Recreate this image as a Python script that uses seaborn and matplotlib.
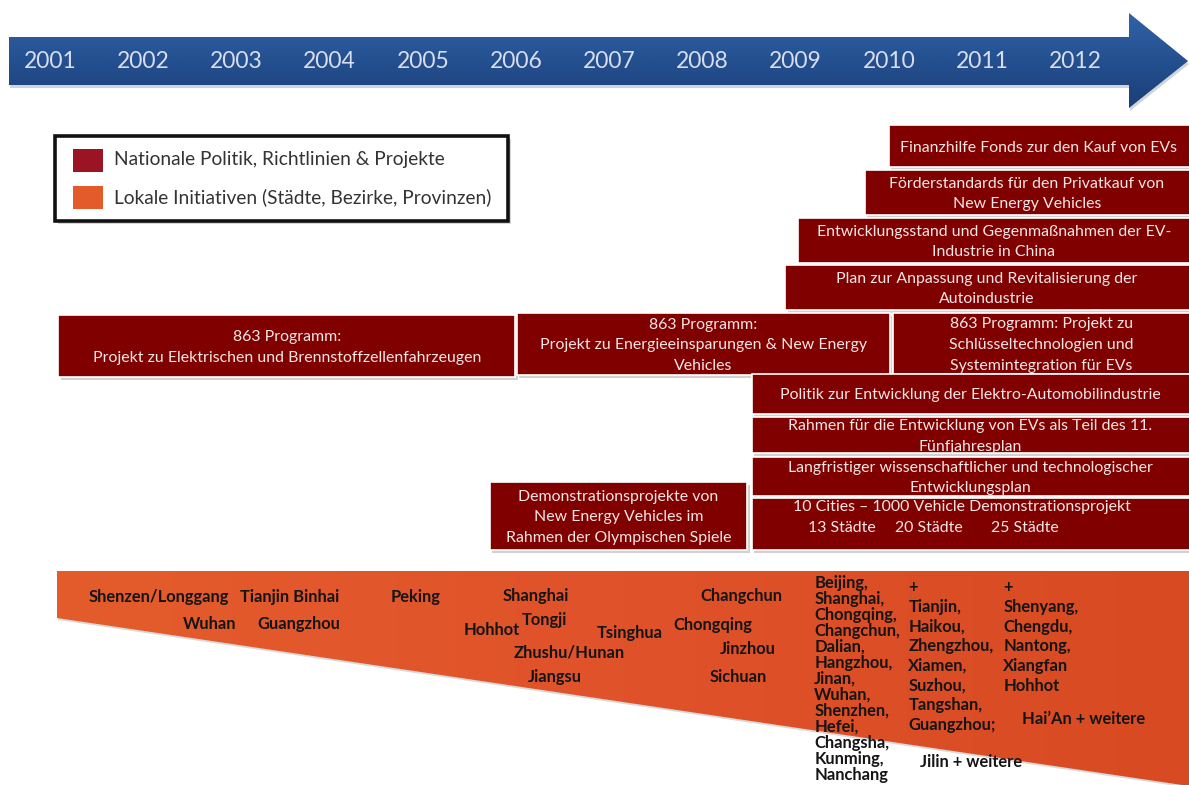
import numpy as np
import matplotlib
matplotlib.use("Agg")
import matplotlib.pyplot as plt
from matplotlib.patches import Rectangle, Polygon
from matplotlib.colors import LinearSegmentedColormap
import seaborn as sns

# ---------------- data ----------------
years = list(range(2001, 2013))

legend_labels = ["Nationale Politik, Richtlinien & Projekte",
                 "Lokale Initiativen (Städte, Bezirke, Provinzen)"]

policy_labels = [
    "Finanzhilfe Fonds zur den Kauf von EVs",
    "Förderstandards für den Privatkauf von\nNew Energy Vehicles",
    "Entwicklungsstand und Gegenmaßnahmen der EV-\nIndustrie in China",
    "Plan zur Anpassung und Revitalisierung der\nAutoindustrie",
    "863 Programm:\nProjekt zu Elektrischen und Brennstoffzellenfahrzeugen",
    "863 Programm:\nProjekt zu Energieeinsparungen & New Energy\nVehicles",
    "863 Programm: Projekt zu\nSchlüsseltechnologien und\nSystemintegration für EVs",
    "Politik zur Entwicklung der Elektro-Automobilindustrie",
    "Rahmen für die Entwicklung von EVs als Teil des 11.\nFünfjahresplan",
    "Langfristiger wissenschaftlicher und technologischer\nEntwicklungsplan",
    "",
    "Demonstrationsprojekte von\nNew Energy Vehicles im\nRahmen der Olympischen Spiele",
]
policy_start = [2010.00, 2009.74, 2009.03, 2008.89, 2001.09, 2006.01,
                2010.05, 2008.53, 2008.53, 2008.53, 2008.53, 2005.72]
policy_end = [2013.3, 2013.3, 2013.3, 2013.3, 2005.99, 2010.01,
              2013.3, 2013.3, 2013.3, 2013.3, 2013.3, 2008.48]

demo_title = "10 Cities \u2013 1000 Vehicle Demonstrationsprojekt"
demo_steps = ["13 Städte", "20 Städte", "25 Städte"]
demo_step_year = [2009.50, 2010.43, 2011.46]

city_names = ["Shenzen/Longgang", "Tianjin Binhai", "Peking", "Shanghai", "Changchun",
              "Wuhan", "Guangzhou", "Hohhot", "Tongji", "Tsinghua", "Chongqing",
              "Zhushu/Hunan", "Jinzhou", "Jiangsu", "Sichuan"]
city_year = [2001.41, 2003.04, 2004.65, 2005.86, 2007.98,
             2002.43, 2003.23, 2005.44, 2006.06, 2006.87, 2007.69,
             2005.97, 2008.19, 2006.13, 2008.08]

wave_names = [
    ["Beijing,", "Shanghai,", "Chongqing,", "Changchun,", "Dalian,", "Hangzhou,",
     "Jinan,", "Wuhan,", "Shenzhen,", "Hefei,", "Changsha,", "Kunming,", "Nanchang"],
    ["+", "Tianjin,", "Haikou,", "Zhengzhou,", "Xiamen,", "Suzhou,", "Tangshan,",
     "Guangzhou;"],
    ["+", "Shenyang,", "Chengdu,", "Nantong,", "Xiangfan", "Hohhot"],
]
wave_year = [2009.20, 2010.21, 2011.23]
extra_names = ["Hai\u2019An + weitere", "Jilin + weitere"]
extra_year = [2011.43, 2010.34]

# ---------------- layout (pixel rows) ----------------
box_top = [125, 170, 218, 265, 315, 313, 313, 374, 417, 457, 498, 482]
box_bot = [167, 215, 263, 310, 377, 375, 374, 414, 453, 496, 550, 550]
city_row = [597, 597, 597, 596, 596, 624, 624, 630, 620, 633, 625, 652, 649, 677, 677]
wave_top = [583, 587, 587]
wave_step = [16.0, 19.7, 19.8]
extra_row = [719, 762]

PX_PER_YEAR = 93.2
X0_PX = 50.0


def yr(px):
    return 2001 + (px - X0_PX) / PX_PER_YEAR


sns.set_theme(style="white")
plt.rcParams["font.family"] = ["Lato", "DejaVu Sans"]

fig = plt.figure(figsize=(11.89, 7.85), dpi=100)
ax = fig.add_axes([0, 0, 1, 1])
ax.axis("off")

DARK_RED = "#800000"
BOX_TEXT = "#F3E6E6"
BOX_FS = 11.4

# ---------------- timeline arrow ----------------
arrow_px = [(9, 37), (1129, 37), (1129, 13), (1188, 61), (1129, 108), (1129, 85), (9, 85)]
shadow = Polygon([(yr(x + 1), y + 3) for x, y in arrow_px], closed=True,
                 facecolor="#9aa0aa", edgecolor="none", alpha=0.45, zorder=1)
ax.add_patch(shadow)
arrow = Polygon([(yr(x), y) for x, y in arrow_px], closed=True,
                facecolor="none", edgecolor="none", zorder=2)
ax.add_patch(arrow)
blue_cmap = LinearSegmentedColormap.from_list("b", ["#3262A8", "#24508F", "#1B3E78"])
grad = np.linspace(0, 1, 200).reshape(-1, 1)
im = ax.imshow(grad, cmap=blue_cmap, aspect="auto", origin="upper",
               extent=(yr(9), yr(1189), 108, 13), zorder=2)
im.set_clip_path(arrow)
for y in years:
    ax.text(y, 62, str(y), ha="center", va="center", color="#D8DDEE",
            fontsize=16.5, zorder=3)

# ---------------- legend ----------------
ax.add_patch(Rectangle((yr(58), 139), yr(511) - yr(58), 85, facecolor="#bbbbbb",
                       edgecolor="none", alpha=0.6, zorder=2))
ax.add_patch(Rectangle((yr(55), 136), yr(508) - yr(55), 85, facecolor="white",
                       edgecolor="#111111", lw=2.6, zorder=3))
leg_colors = ["#9A1423", "#E35B2B"]
leg_rows = [160, 197]
for lab, col, ry in zip(legend_labels, leg_colors, leg_rows):
    ax.add_patch(Rectangle((yr(73), ry - 11), yr(103) - yr(73), 23, facecolor=col,
                           edgecolor="none", zorder=4))
    ax.text(yr(114), ry, lab, ha="left", va="center", color="#333333",
            fontsize=13.8, zorder=4)

# ---------------- national policy boxes ----------------
dx = 2.5 / PX_PER_YEAR
for i, (lab, x0, x1, t, b) in enumerate(zip(policy_labels, policy_start, policy_end,
                                             box_top, box_bot)):
    ax.add_patch(Rectangle((x0 + dx, t + 3), x1 - x0, b - t, facecolor="#999999",
                           edgecolor="none", alpha=0.45, zorder=4 + i * 0.01))
    ax.add_patch(Rectangle((x0, t), x1 - x0, b - t, facecolor=DARK_RED,
                           edgecolor="white", lw=1.2, zorder=4 + i * 0.01 + 0.005))
    if lab:
        ax.text((x0 + min(x1, yr(1189))) / 2, (t + b) / 2 + 1.5, lab, ha="center",
                va="center", color=BOX_TEXT, fontsize=BOX_FS, linespacing=1.6,
                zorder=5)

ax.text(yr(962), 507, demo_title, ha="center", va="center", color=BOX_TEXT,
        fontsize=BOX_FS, zorder=5)
for lab, y in zip(demo_steps, demo_step_year):
    ax.text(y, 528, lab, ha="center", va="center", color=BOX_TEXT,
            fontsize=BOX_FS, zorder=5)

# ---------------- local initiatives wedge ----------------
wedge_px = [(57, 571), (1189, 571), (1189, 786), (57, 618)]
ax.add_patch(Polygon([(yr(x + 1), y + 2) for x, y in wedge_px], closed=True,
                     facecolor="#a0a0a0", edgecolor="none", alpha=0.4, zorder=1))
wedge = Polygon([(yr(x), y) for x, y in wedge_px], closed=True,
                facecolor="none", edgecolor="none", zorder=2)
ax.add_patch(wedge)
org_cmap = LinearSegmentedColormap.from_list("o", ["#E45C2C", "#E0522A", "#D84A22"])
grad2 = np.linspace(0, 1, 300).reshape(1, -1)
im2 = ax.imshow(grad2, cmap=org_cmap, aspect="auto", origin="upper",
                extent=(yr(57), yr(1189), 786, 571), zorder=2)
im2.set_clip_path(wedge)

CITY_KW = dict(ha="left", va="center", color="#151515", fontsize=11.9,
               fontweight="bold", zorder=6)
for name, x, ry in zip(city_names, city_year, city_row):
    ax.text(x, ry, name, **CITY_KW)
for names, x, top, step in zip(wave_names, wave_year, wave_top, wave_step):
    for k, name in enumerate(names):
        ax.text(x, top + k * step, name, **CITY_KW)
for name, x, ry in zip(extra_names, extra_year, extra_row):
    ax.text(x, ry, name, **CITY_KW)

ax.set_xlim(yr(0), yr(1189))
ax.set_ylim(785, 0)
fig.savefig("out.png", dpi=100)
